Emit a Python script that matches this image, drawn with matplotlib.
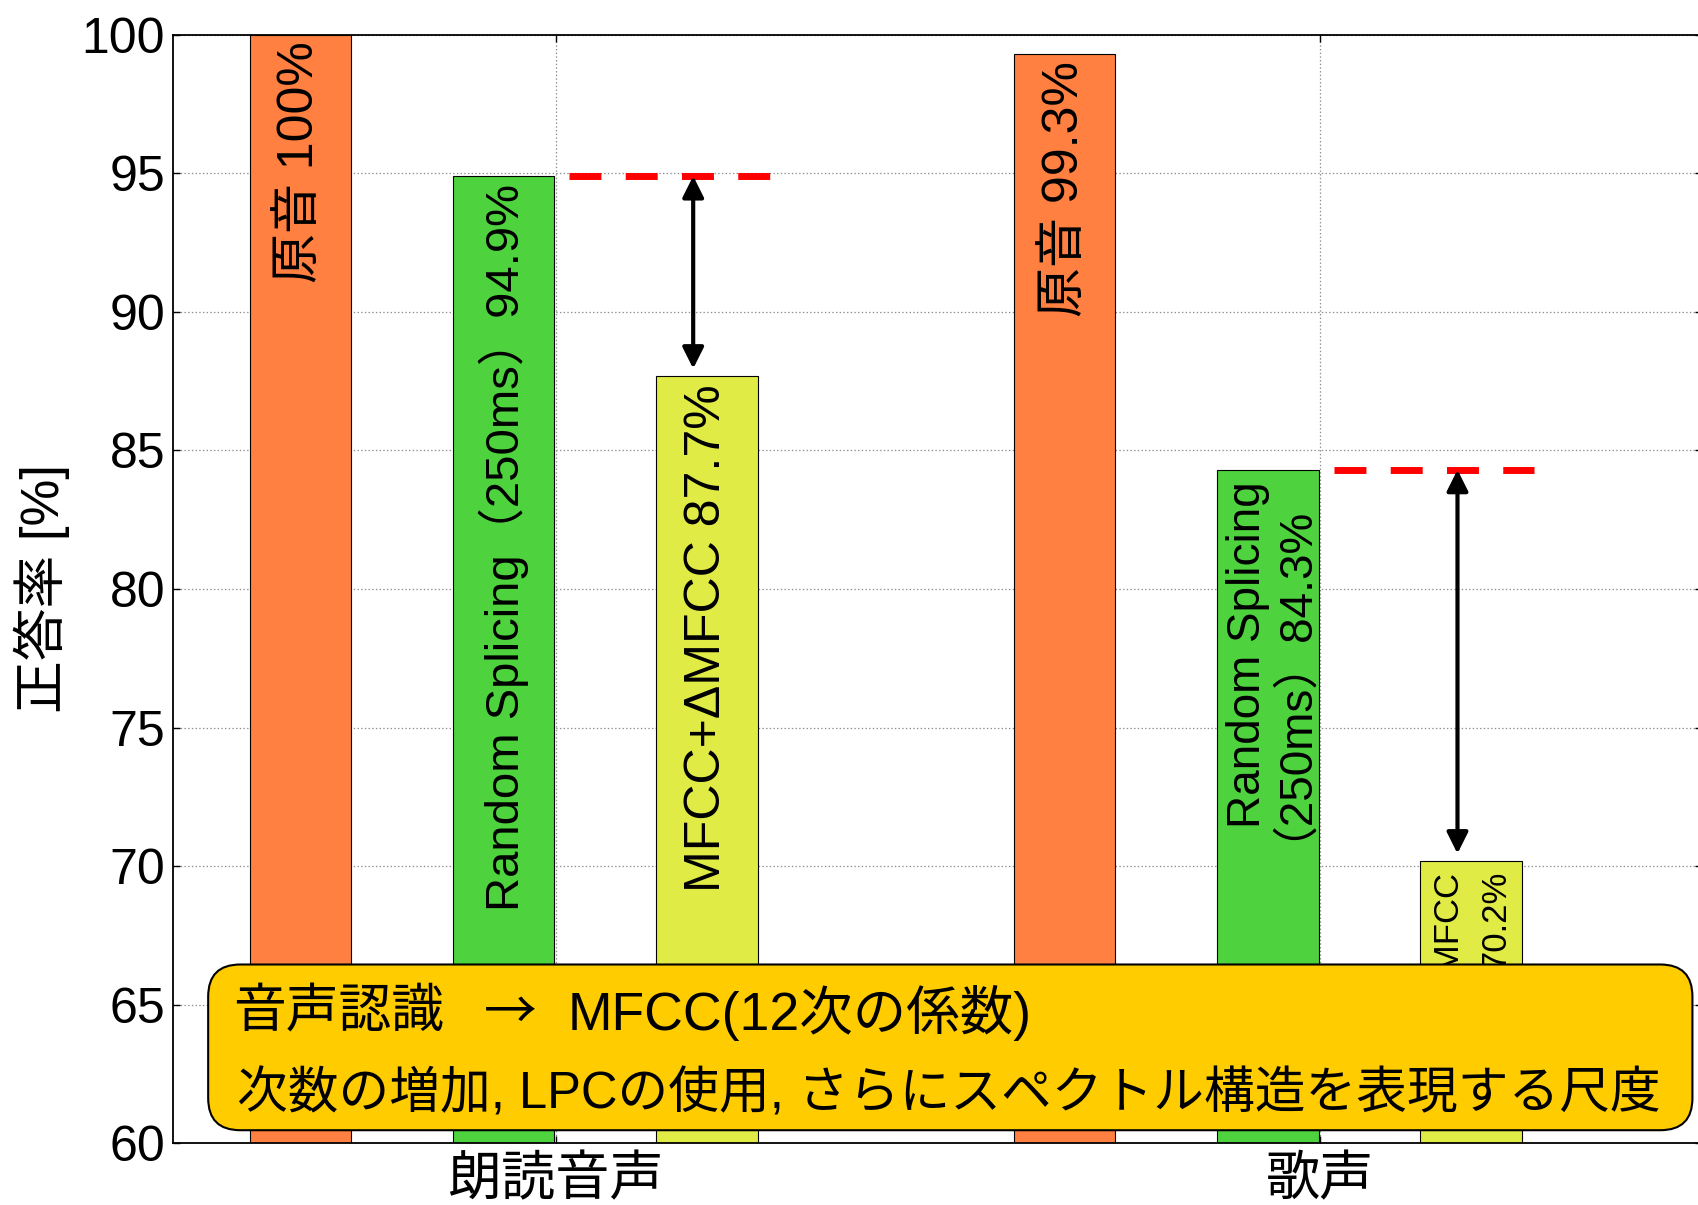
import numpy as np
import matplotlib
matplotlib.use("Agg")
import matplotlib.pyplot as plt
from matplotlib.patches import FancyBboxPatch

plt.rcParams['font.family'] = ['Liberation Sans', 'Noto Sans CJK JP']
plt.rcParams['lines.scale_dashes'] = False

# データ
groups = ['朗読音声', '歌声']
orig_vals = [100.0, 99.3]
rs_vals = [94.9, 84.3]
mfcc_vals = [87.7, 70.2]

orig_labels = ['原音 100%', '原音 99.3%']
rs_labels = ['Random Splicing（250ms）94.9%', 'Random Splicing\n（250ms）84.3%']
mfcc_labels = ['MFCC+ΔMFCC 87.7%', 'MFCC+ΔMFCC\n70.2%']

box_head = ['音声認識', '→', 'MFCC(12次の係数)']
box_line2 = '次数の増加, LPCの使用, さらにスペクトル構造を表現する尺度'

col_orig = '#FF8040'
col_rs = '#4ED23D'
col_mfcc = '#E1EB46'

x = np.arange(1, len(groups) + 1)
w = 0.133
offs = [-0.334, -0.068, 0.198]

fig = plt.figure(figsize=(16.99, 12.05), dpi=100)
ax = fig.add_axes([0.1021, 0.0513, 0.8997, 0.9199])

ax.bar(x + offs[0], orig_vals, w, color=col_orig, edgecolor='black', linewidth=0.8, zorder=2)
ax.bar(x + offs[1], rs_vals, w, color=col_rs, edgecolor='black', linewidth=0.8, zorder=2)
ax.bar(x + offs[2], mfcc_vals, w, color=col_mfcc, edgecolor='black', linewidth=0.8, zorder=2)


def bar_label(xc, top, label, fs, gap, dxs=(0,)):
    # 縦書きラベル（複数行は1行ずつ横に並べる）
    for line, dx in zip(label.split('\n'), dxs):
        ax.annotate(line, xy=(xc, top), xytext=(dx, -gap), textcoords='offset points',
                    rotation=90, ha='center', va='top', fontsize=fs, zorder=3)


for i in range(len(groups)):
    bar_label(x[i] + offs[0], orig_vals[i], orig_labels[i], 36, 5)
bar_label(x[0] + offs[1], rs_vals[0], rs_labels[0], 34, 6)
bar_label(x[1] + offs[1], rs_vals[1], rs_labels[1], 33, 8, (-14.5, 0.7))
bar_label(x[0] + offs[2], mfcc_vals[0], mfcc_labels[0], 36, 6)
bar_label(x[1] + offs[2], mfcc_vals[1], mfcc_labels[1], 25, 7, (-17.5, 17.5))

# 赤い破線と矢印
for i in range(len(groups)):
    ax.plot([x[i] + 0.018, x[i] + 0.28], [rs_vals[i], rs_vals[i]], color='red',
            lw=5, dashes=(23, 17.5), solid_capstyle='butt', zorder=3)
    ax.annotate('', xy=(x[i] + 0.18, mfcc_vals[i] + 0.25), xytext=(x[i] + 0.18, rs_vals[i]),
                arrowprops=dict(arrowstyle='<|-|>', color='black', lw=3,
                                mutation_scale=32, shrinkA=0, shrinkB=0), zorder=3)

ax.set_xlim(0.5, 2.5)
ax.set_ylim(60, 100)
ax.set_yticks(np.arange(60, 101, 5))
ax.set_xticks(x)
ax.set_xticklabels(groups, fontsize=39)
ax.tick_params(axis='y', labelsize=36, pad=6)
ax.tick_params(axis='x', pad=9)
ax.tick_params(direction='in', top=True, right=True, length=5, width=1)
ax.set_ylabel('正答率 [%]', fontsize=38)
ax.yaxis.set_label_coords(-0.068, 0.5)

ax.grid(True, color='0.55', linestyle=':', linewidth=0.9)
ax.set_axisbelow(True)
for s in ax.spines.values():
    s.set_linewidth(1.3)

# 黄色いボックス
aw = 0.8997 * 1699
ah = 0.9199 * 1205
box = FancyBboxPatch((0.0227, 0.0117), 0.971, 0.1495,
                     boxstyle='round,pad=0,rounding_size=0.021',
                     mutation_aspect=aw / ah, transform=ax.transAxes,
                     facecolor='#FFCC00', edgecolor='black', linewidth=1.5,
                     zorder=5, clip_on=False)
ax.add_patch(box)
ax.text(0.039, 0.1175, box_head[0], transform=ax.transAxes, fontsize=38,
        ha='left', va='center', zorder=6)
ax.text(0.2201, 0.1175, box_head[1], transform=ax.transAxes, fontsize=38,
        family='Noto Sans CJK JP', ha='center', va='center', zorder=6)
ax.text(0.258, 0.1175, box_head[2], transform=ax.transAxes, fontsize=38.5,
        ha='left', va='center', zorder=6)
ax.text(0.0415, 0.0435, box_line2, transform=ax.transAxes, fontsize=36.5,
        ha='left', va='center', zorder=6)

fig.savefig('out.png', dpi=100)
